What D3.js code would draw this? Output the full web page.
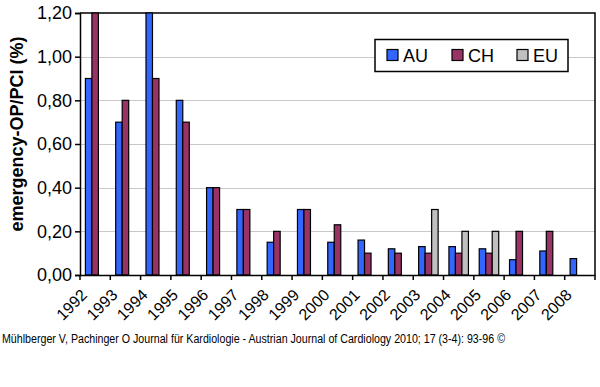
<!DOCTYPE html>
<html>
<head>
<meta charset="utf-8">
<script src="https://cdn.jsdelivr.net/npm/d3@7/dist/d3.min.js"></script>
<style>
  body { margin: 0; background: #fff; }
  svg { display: block; font-family: Arial, "Liberation Sans", sans-serif; }
</style>
</head>
<body>
<div id="chart"></div>
<script>
// data
var years = ["1992","1993","1994","1995","1996","1997","1998","1999","2000","2001","2002","2003","2004","2005","2006","2007","2008"];
var seriesNames = ["AU", "CH", "EU"];
var auValues = [0.90, 0.70, 1.20, 0.80, 0.40, 0.30, 0.15, 0.30, 0.15, 0.16, 0.12, 0.13, 0.13, 0.12, 0.07, 0.11, 0.075];
var chValues = [1.20, 0.80, 0.90, 0.70, 0.40, 0.30, 0.20, 0.30, 0.23, 0.10, 0.10, 0.10, 0.10, 0.10, 0.20, 0.20, null];
var euValues = [null, null, null, null, null, null, null, null, null, null, null, 0.30, 0.20, 0.20, null, null, null];
var yTicks = [0, 0.2, 0.4, 0.6, 0.8, 1.0, 1.2];
var colors = ["#3366ff", "#993366", "#c0c0c0"];

(function() {
var width = 600, height = 387;
var plotL = 80, plotR = 595, plotT = 13, plotB = 275;

var svg = d3.select("#chart").append("svg")
  .attr("width", width).attr("height", height);

var x = d3.scaleBand().domain(years).range([plotL, plotR]).paddingInner(0).paddingOuter(0);
var bw = 6.5;
var gap = (x.bandwidth() - 3 * bw) / 2;
var y = d3.scaleLinear().domain([0, 1.2]).range([plotB, plotT]);

// gridlines
svg.append("g").selectAll("line").data(yTicks.slice(1, -1)).enter().append("line")
  .attr("x1", plotL).attr("x2", plotR)
  .attr("y1", function(d) { return Math.round(y(d)) + 0.5; })
  .attr("y2", function(d) { return Math.round(y(d)) + 0.5; })
  .attr("stroke", "#c8c8c8").attr("stroke-width", 1);

// plot border (top + right)
svg.append("path")
  .attr("d", "M" + plotL + "," + plotT + "H" + plotR + "V" + plotB)
  .attr("fill", "none").attr("stroke", "#000").attr("stroke-width", 1.5);

// bars
var allSeries = [auValues, chValues, euValues];
allSeries.forEach(function(vals, si) {
  svg.append("g").selectAll("rect")
    .data(vals.map(function(v, i) { return { year: years[i], v: v }; }).filter(function(d) { return d.v != null; }))
    .enter().append("rect")
    .attr("x", function(d) { return x(d.year) + gap + si * bw; })
    .attr("y", function(d) { return y(d.v); })
    .attr("width", bw)
    .attr("height", function(d) { return y(0) - y(d.v); })
    .attr("fill", colors[si])
    .attr("stroke", "#000").attr("stroke-width", 1.2);
});

// y axis
var yAxis = d3.axisLeft(y).tickValues(yTicks).tickSize(5).tickPadding(3)
  .tickFormat(function(d) { return d3.format(".2f")(d).replace(".", ","); });
var gy = svg.append("g").attr("transform", "translate(" + plotL + ",0)").call(yAxis);
gy.select(".domain").attr("stroke", "#000").attr("stroke-width", 1.5);
gy.selectAll(".tick line").attr("stroke", "#000").attr("stroke-width", 1.5);
gy.selectAll("text").attr("font-size", 18).attr("fill", "#000")
  .attr("font-family", "Arial, 'Liberation Sans', sans-serif");

// x axis
var xAxis = d3.axisBottom(x).tickSize(0).tickFormat("");
var gx = svg.append("g").attr("transform", "translate(0," + plotB + ")").call(xAxis);
gx.select(".domain").attr("stroke", "#000").attr("stroke-width", 1.5);
// ticks at category boundaries
svg.append("g").selectAll("line").data(years.concat(["end"])).enter().append("line")
  .attr("x1", function(d, i) { return i < years.length ? x(d) : plotR; })
  .attr("x2", function(d, i) { return i < years.length ? x(d) : plotR; })
  .attr("y1", plotB).attr("y2", plotB + 5)
  .attr("stroke", "#000").attr("stroke-width", 1.5);
svg.append("g").selectAll("text").data(years).enter().append("text")
  .attr("transform", function(d) {
    return "translate(" + (x(d) + x.bandwidth() / 2 - 7) + "," + (plotB + 21) + ") rotate(-45)";
  })
  .attr("text-anchor", "end")
  .attr("font-size", 16)
  .attr("fill", "#000")
  .text(function(d) { return d; });

// y title
svg.append("text")
  .attr("transform", "translate(23," + 134 + ") rotate(-90)")
  .attr("text-anchor", "middle")
  .attr("font-size", 18).attr("font-weight", "bold")
  .text("emergency-OP/PCI (%)");

// legend
var lg = svg.append("g");
lg.append("rect").attr("x", 375).attr("y", 39.5).attr("width", 193).attr("height", 32)
  .attr("fill", "#fff").attr("stroke", "#000").attr("stroke-width", 1.5);
var legendX = [387, 452, 517];
seriesNames.forEach(function(name, i) {
  lg.append("rect").attr("x", legendX[i]).attr("y", 49.5).attr("width", 11).attr("height", 11)
    .attr("fill", colors[i]).attr("stroke", "#000").attr("stroke-width", 1.2);
  lg.append("text").attr("x", legendX[i] + 16).attr("y", 61.5)
    .attr("font-size", 18).attr("fill", "#000").text(name);
});

// source line
svg.append("text")
  .attr("x", 2).attr("y", 343)
  .attr("font-size", 12.5).attr("fill", "#000")
  .attr("textLength", 503).attr("lengthAdjust", "spacingAndGlyphs")
  .text("Mühlberger V, Pachinger O Journal für Kardiologie - Austrian Journal of Cardiology 2010; 17 (3-4): 93-96 ©");
})();
</script>
</body>
</html>
